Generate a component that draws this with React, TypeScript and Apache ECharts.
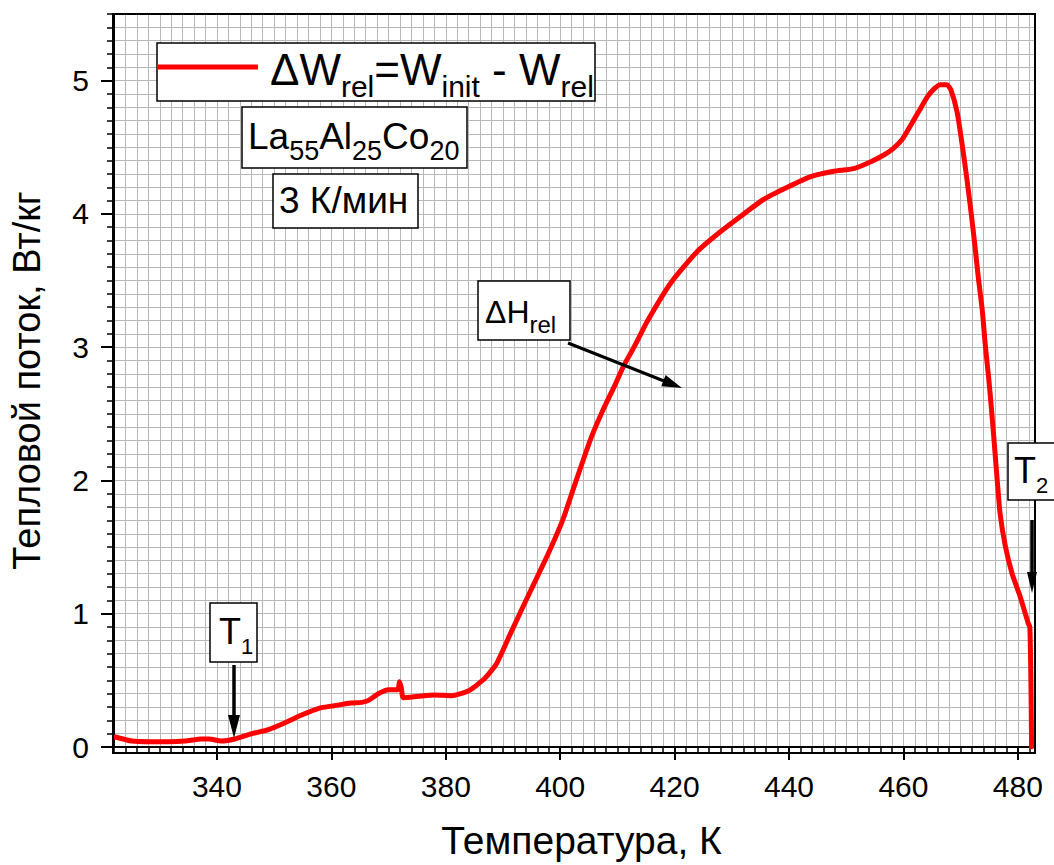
import React, { useEffect, useRef } from "react";
import * as echarts from "echarts";

// ---- data ----
const temperatureK = [
  322.2, 325.1, 328.5, 331.6, 334.4, 337.3, 338.6, 340.8, 343.1, 346.1,
  349.0, 351.8, 354.8, 357.8, 360.5, 363.5, 365.3, 366.5, 368.2, 370.0,
  371.6, 371.9, 372.2, 372.6, 375.2, 378.0, 381.0, 383.9, 386.7, 388.8,
  391.4, 394.9, 397.9, 400.5, 402.4, 404.0, 405.4, 407.5, 409.4, 411.1,
  412.9, 415.3, 419.3, 424.0, 428.1, 432.1, 435.6, 439.7, 443.8, 447.8,
  451.3, 454.2, 456.5, 458.2, 459.8, 461.2, 462.7, 464.2, 465.4, 466.4,
  467.6, 468.3, 469.4, 470.3, 471.1, 471.8, 472.5, 473.1, 473.8, 474.3,
  474.9, 475.4, 475.9, 476.4, 476.9, 477.8, 479.0, 480.4, 481.8, 482.1,
  482.3, 482.4,
];
const heatFlow = [
  0.075, 0.045, 0.04, 0.04, 0.045, 0.06, 0.06, 0.045, 0.06, 0.1,
  0.13, 0.18, 0.24, 0.29, 0.31, 0.33, 0.335, 0.35, 0.4, 0.43,
  0.43, 0.49, 0.45, 0.37, 0.38, 0.39, 0.385, 0.42, 0.51, 0.62,
  0.86, 1.18, 1.45, 1.71, 1.95, 2.15, 2.32, 2.53, 2.7, 2.86,
  3.0, 3.2, 3.48, 3.72, 3.87, 4.0, 4.11, 4.2, 4.28, 4.32,
  4.34, 4.39, 4.44, 4.49, 4.56, 4.66, 4.77, 4.88, 4.94, 4.97,
  4.97, 4.93, 4.76, 4.51, 4.26, 4.02, 3.76, 3.52, 3.27, 3.02,
  2.77, 2.53, 2.27, 2.0, 1.75, 1.51, 1.3, 1.13, 0.93, 0.9,
  0.45, 0.0,
];
const xTicks = [340, 360, 380, 400, 420, 440, 460, 480];
const yTicks = [0, 1, 2, 3, 4, 5];
const X_MIN = 322;
const X_MAX = 483;
const Y_MIN = 0;
const Y_MAX = 5.5;

const FONT = "'Liberation Sans', Arial, sans-serif";

export default function App() {
  const ref = useRef<HTMLDivElement>(null);

  useEffect(() => {
    if (!ref.current) return;
    const chart = echarts.init(ref.current, null, { renderer: "svg" });
    const data = temperatureK.map((t, i) => [t, heatFlow[i]]);
    const gridLine = { color: "#b8b8b8", width: 1 };
    const black = { color: "#000", width: 2 };

    const box = (x: number, y: number, w: number, h: number) => ({
      type: "rect",
      z: 100,
      shape: { x, y, width: w, height: h },
      style: { fill: "#fff", stroke: "#000", lineWidth: 1.5 },
    });
    const mainTok = (fs: number) => ({
      fontSize: fs,
      fontFamily: FONT,
      fill: "#000",
      verticalAlign: "top",
      lineHeight: fs + 2,
    });
    const subTok = (fs: number, pad: number) => ({
      fontSize: fs,
      fontFamily: FONT,
      fill: "#000",
      verticalAlign: "top",
      lineHeight: fs,
      padding: [pad, 0, 0, 0],
    });
    const richText = (x: number, y: number, text: string, mf: number, sf: number, pad: number) => ({
      type: "text",
      z: 101,
      style: {
        x,
        y,
        text,
        align: "left",
        verticalAlign: "middle",
        rich: { m: mainTok(mf), s: subTok(sf, pad) },
      },
    });

    chart.setOption({
      animation: false,
      grid: { left: 113, top: 14, right: 19, bottom: 112, containLabel: false },
      xAxis: [
        {
          type: "value",
          min: X_MIN,
          max: X_MAX,
          interval: 2,
          position: "bottom",
          axisLine: { show: true, lineStyle: black },
          axisTick: { show: true, length: 5, lineStyle: { color: "#000", width: 1.5 } },
          axisLabel: { show: false },
          splitLine: { show: true, lineStyle: gridLine },
        },
        {
          type: "value",
          min: X_MIN,
          max: X_MAX,
          position: "bottom",
          axisLine: { show: false },
          axisTick: { show: true, customValues: xTicks, length: 13, lineStyle: { color: "#000", width: 2 } },
          axisLabel: { show: true, customValues: xTicks, fontSize: 30, margin: 24, color: "#000", fontFamily: FONT },
          splitLine: { show: false },
          name: "Температура, К",
          nameLocation: "middle",
          nameGap: 74,
          nameTextStyle: { fontSize: 39, color: "#000", fontFamily: FONT, padding: [0, 0, 0, 14] },
        },
      ],
      yAxis: [
        {
          type: "value",
          min: Y_MIN,
          max: Y_MAX,
          interval: 0.1,
          position: "left",
          axisLine: { show: true, lineStyle: black },
          axisTick: { show: true, length: 7, lineStyle: { color: "#000", width: 1.5 } },
          axisLabel: { show: false },
          splitLine: { show: true, lineStyle: gridLine },
        },
        {
          type: "value",
          min: Y_MIN,
          max: Y_MAX,
          position: "left",
          axisLine: { show: false },
          axisTick: { show: true, customValues: yTicks, length: 13, lineStyle: { color: "#000", width: 2 } },
          axisLabel: { show: true, customValues: yTicks, fontSize: 30, margin: 25, color: "#000", fontFamily: FONT },
          splitLine: { show: false },
          name: "Тепловой поток, Вт/кг",
          nameLocation: "middle",
          nameRotate: 90,
          nameGap: 68,
          nameTextStyle: { fontSize: 38, color: "#000", fontFamily: FONT },
        },
      ],
      series: [
        {
          name: "ΔWrel=Winit - Wrel",
          type: "line",
          xAxisIndex: 0,
          yAxisIndex: 0,
          data,
          showSymbol: false,
          symbol: "none",
          smooth: 0.2,
          lineStyle: { color: "#ff0000", width: 5, join: "round", cap: "round" },
          z: 5,
        },
      ],
      graphic: [
        {
          type: "rect",
          z: 90,
          shape: { x: 113, y: 14, width: 922, height: 739 },
          style: { fill: "none", stroke: "#000", lineWidth: 2 },
        },
        // legend
        box(157, 43, 438, 58),
        {
          type: "line",
          z: 101,
          shape: { x1: 157, y1: 67, x2: 258, y2: 67 },
          style: { stroke: "#ff0000", lineWidth: 5 },
        },
        richText(270, 70.5, "{m|ΔW}{s|rel}{m|=W}{s|init}{m| - W}{s|rel}", 44, 30, 24),
        // composition
        box(242, 107, 225, 61),
        richText(248, 137.5, "{m|La}{s|55}{m|Al}{s|25}{m|Co}{s|20}", 37, 27, 19),
        // rate
        box(273, 174, 145, 54),
        {
          type: "text",
          z: 101,
          style: { x: 279, y: 200, text: "3 К/мин", fontSize: 37, fontFamily: FONT, fill: "#000", align: "left", verticalAlign: "middle" },
        },
        // ΔH_rel
        box(478, 281, 92, 59),
        richText(485, 313, "{m|ΔH}{s|rel}", 32, 24, 16),
        {
          type: "line",
          z: 101,
          shape: { x1: 568, y1: 343, x2: 664, y2: 381 },
          style: { stroke: "#000", lineWidth: 3 },
        },
        {
          type: "polygon",
          z: 101,
          shape: { points: [[682, 388], [661.2, 386.3], [665.6, 375.1]] },
          style: { fill: "#000" },
        },
        // T1
        box(210, 603, 47, 59),
        richText(219, 632, "{m|T}{s|1}", 36, 22, 22),
        {
          type: "line",
          z: 101,
          shape: { x1: 234, y1: 665, x2: 234, y2: 718 },
          style: { stroke: "#000", lineWidth: 3.5 },
        },
        {
          type: "polygon",
          z: 101,
          shape: { points: [[228, 715], [240, 715], [234, 738]] },
          style: { fill: "#000" },
        },
        // T2
        box(1008, 443, 60, 57),
        richText(1014, 471.5, "{m|T}{s|2}", 36, 22, 22),
        {
          type: "line",
          z: 101,
          shape: { x1: 1032, y1: 520, x2: 1032, y2: 575 },
          style: { stroke: "#000", lineWidth: 3.5 },
        },
        {
          type: "polygon",
          z: 101,
          shape: { points: [[1027, 572], [1037, 572], [1032, 593]] },
          style: { fill: "#000" },
        },
      ],
    });

    return () => chart.dispose();
  }, []);

  return (
    <div
      ref={ref}
      style={{ position: "absolute", left: 0, top: 0, width: 1054, height: 865, background: "#fff" }}
    />
  );
}
